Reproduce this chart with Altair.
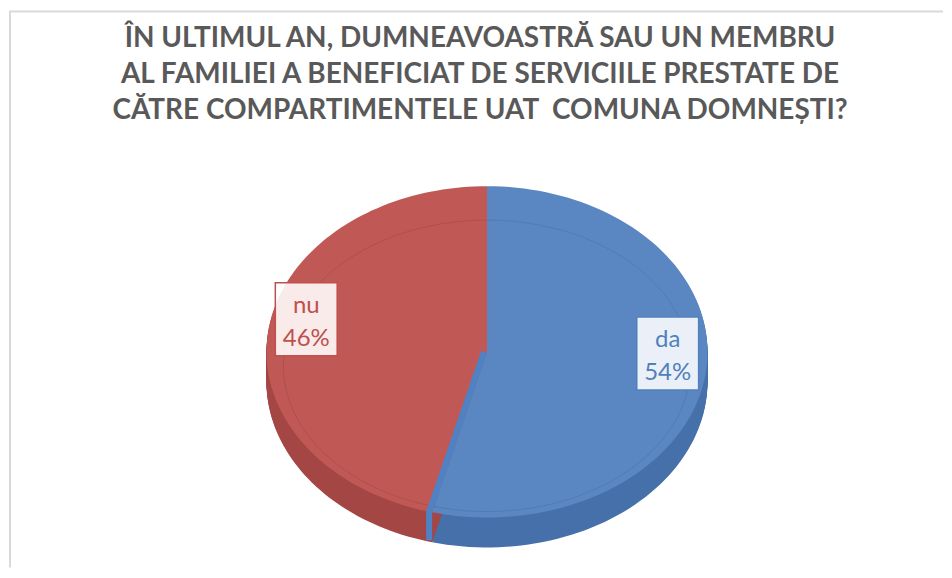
import altair as alt
import pandas as pd

# ---- data ----
categories = ["da", "nu"]
values = [54, 46]
title_lines = [
    "ÎN ULTIMUL AN, DUMNEAVOASTRĂ SAU UN MEMBRU",
    "AL FAMILIEI A BENEFICIAT DE SERVICIILE PRESTATE DE",
    "CĂTRE COMPARTIMENTELE UAT \u00a0COMUNA DOMNEȘTI?",
]

# ---- layout / style ----
W, H = 936, 560
CX, CY, RX, RY, DEPTH = 479, 344, 221, 166, 30
IN_CY, IN_RX, IN_RY = 358, 204, 146
FACE = ["#5A87C1", "#C05956"]
SIDE = ["#4670AA", "#A44644"]
BEVEL = ["#3F6697", "#8E3C3A"]
LABEL = ["#4F81BD", "#C0504D"]
FONT = "Lato"

df = pd.DataFrame({"cat": categories, "val": values})

xs = alt.Scale(domain=[0, W], nice=False, zero=False)
ys = alt.Scale(domain=[0, H], nice=False, zero=False, reverse=True)

base = (
    alt.Chart(df)
    .transform_joinaggregate(total="sum(val)")
    .transform_window(cum="sum(val)", frame=[None, 0])
    .transform_calculate(
        a0="2*PI*(datum.cum - datum.val)/datum.total",
        a1="2*PI*datum.cum/datum.total",
    )
)

poly = (
    base.transform_calculate(steps="sequence(0, 102)")
    .transform_flatten(["steps"])
    .transform_calculate(
        ang="datum.a0 + (datum.a1 - datum.a0)*(datum.steps - 1)/100",
    )
    .transform_calculate(
        px=f"datum.steps == 0 ? {CX} : {CX} + {RX}*sin(datum.ang)",
        py0=f"datum.steps == 0 ? {CY} : {CY} - {RY}*cos(datum.ang)",
    )
)

side = (
    poly.transform_calculate(dd=f"sequence(1, {DEPTH + 1})")
    .transform_flatten(["dd"])
    .transform_calculate(py="datum.py0 + datum.dd")
    .mark_line(filled=True, interpolate="linear-closed", strokeWidth=0)
    .encode(
        x=alt.X("px:Q", scale=xs, axis=None),
        y=alt.Y("py:Q", scale=ys, axis=None),
        color=alt.Color("cat:N", scale=alt.Scale(domain=categories, range=SIDE), legend=None),
        detail=alt.Detail("dd:Q"),
        order=alt.Order("steps:Q"),
    )
)

faces = (
    poly.transform_calculate(py="datum.py0")
    .mark_line(filled=True, interpolate="linear-closed", strokeWidth=0)
    .encode(
        x=alt.X("px:Q", scale=xs, axis=None),
        y=alt.Y("py:Q", scale=ys, axis=None),
        color=alt.Color("cat:N", scale=alt.Scale(domain=categories, range=FACE), legend=None),
        order=alt.Order("steps:Q"),
    )
)

# faint bevel line on the top face
bevel = (
    poly.transform_filter("datum.steps >= 1")
    .transform_calculate(
        bx=f"{CX} + {IN_RX}*sin(datum.ang)",
        by=f"{IN_CY} - {IN_RY}*cos(datum.ang)",
    )
    .mark_line(strokeWidth=1, strokeOpacity=0.35)
    .encode(
        x=alt.X("bx:Q", scale=xs, axis=None),
        y=alt.Y("by:Q", scale=ys, axis=None),
        color=alt.Color("cat:N", scale=alt.Scale(domain=categories, range=BEVEL), legend=None),
        order=alt.Order("steps:Q"),
    )
)

# cut face strip between slices (end of first slice)
strip = (
    base.transform_filter(alt.datum.cat == categories[0])
    .transform_calculate(k="sequence(0, 3)")
    .transform_flatten(["k"])
    .transform_calculate(
        sx=f"(datum.k == 0 ? {CX} : {CX} + {RX}*sin(datum.a1)) - 3",
        sy=f"datum.k == 0 ? {CY} : ({CY} - {RY}*cos(datum.a1) + (datum.k == 2 ? {DEPTH - 2} : 0))",
    )
    .mark_line(strokeWidth=6, color="#4E82C4")
    .encode(
        x=alt.X("sx:Q", scale=xs, axis=None),
        y=alt.Y("sy:Q", scale=ys, axis=None),
        order=alt.Order("k:Q"),
    )
)

lab = base.transform_calculate(
    mid="(datum.a0 + datum.a1)/2",
).transform_calculate(
    lx=f"{CX} + {RX}*0.826*sin(datum.mid)",
    ly=f"{CY} - {RY}*0.826*cos(datum.mid) - 16",
    pct="format(datum.val/datum.total, '.0%')",
).transform_calculate(
    bx0="datum.lx - 31", bx1="datum.lx + 31",
    by0="datum.ly - 36", by1="datum.ly + 37",
)

boxes = lab.mark_rect(fill="white", fillOpacity=0.88, strokeWidth=1.5).encode(
    x=alt.X("bx0:Q", scale=xs, axis=None),
    x2="bx1:Q",
    y=alt.Y("by0:Q", scale=ys, axis=None),
    y2="by1:Q",
    stroke=alt.Stroke("cat:N", scale=alt.Scale(domain=categories, range=LABEL), legend=None),
)

txt_cat = lab.mark_text(font=FONT, fontSize=24, baseline="alphabetic", dy=-6).encode(
    x=alt.X("lx:Q", scale=xs, axis=None),
    y=alt.Y("ly:Q", scale=ys, axis=None),
    text="cat:N",
    color=alt.Color("cat:N", scale=alt.Scale(domain=categories, range=LABEL), legend=None),
)
txt_pct = lab.mark_text(font=FONT, fontSize=24, baseline="alphabetic", dy=27).encode(
    x=alt.X("lx:Q", scale=xs, axis=None),
    y=alt.Y("ly:Q", scale=ys, axis=None),
    text="pct:N",
    color=alt.Color("cat:N", scale=alt.Scale(domain=categories, range=LABEL), legend=None),
)

title = alt.Chart(alt.Data(values=[{}])).mark_text(
    text=title_lines, font=FONT, fontSize=28, fontWeight="bold", color="#595959",
    lineHeight=36.5, baseline="alphabetic", align="center",
).encode(x=alt.value(472), y=alt.value(38))

border_top = alt.Chart(alt.Data(values=[{}])).mark_rule(color="#D9D9D9", strokeWidth=2).encode(
    x=alt.value(0), x2=alt.value(W), y=alt.value(3)
)
border_left = alt.Chart(alt.Data(values=[{}])).mark_rule(color="#D9D9D9", strokeWidth=2).encode(
    x=alt.value(1), y=alt.value(3), y2=alt.value(H)
)

chart = (
    alt.layer(side, faces, bevel, strip, boxes, txt_cat, txt_pct, title, border_top, border_left)
    .resolve_scale(color="independent", stroke="independent")
    .properties(width=W, height=H, padding=0, background="white")
    .configure_view(stroke=None)
)

chart.save("out.html", embed_options={"renderer": "svg", "actions": False})
